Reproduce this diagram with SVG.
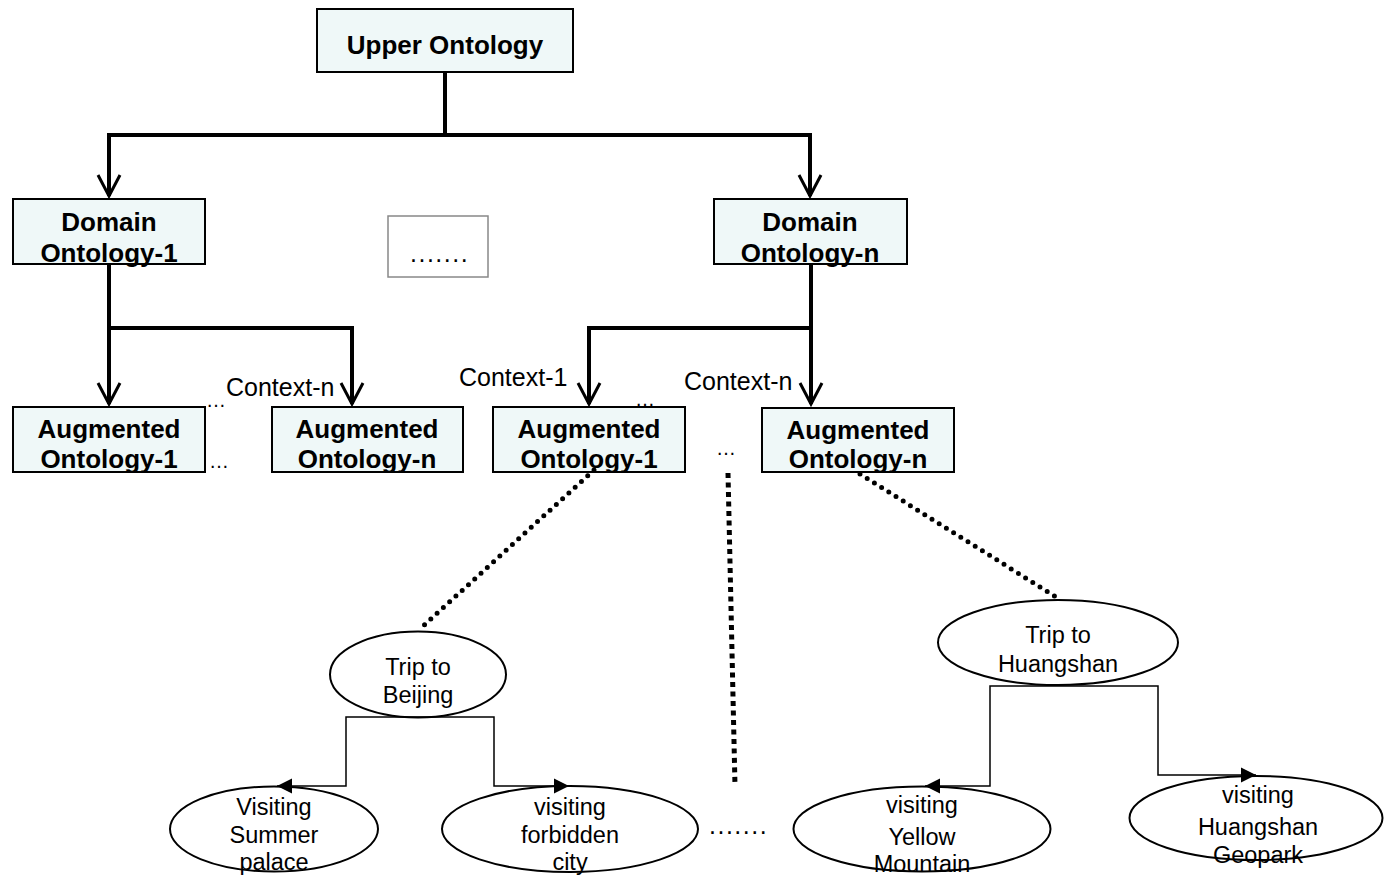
<svg xmlns="http://www.w3.org/2000/svg" width="1384" height="877" viewBox="0 0 1384 877">
<style>
.box{fill:#EFF8F8;stroke:#000;stroke-width:2}
.ell{fill:#fff;stroke:#000;stroke-width:2}
.b{font-family:"Liberation Sans",Arial,sans-serif;font-weight:bold;font-size:26px;text-anchor:middle;fill:#000}
.r{font-family:"Liberation Sans",Arial,sans-serif;font-size:23.5px;text-anchor:middle;fill:#000}
.c{font-family:"Liberation Sans",Arial,sans-serif;font-size:25px;fill:#000}
.e{font-family:"Liberation Sans",Arial,sans-serif;font-size:20px;fill:#000}
.thick{fill:none;stroke:#000;stroke-width:4;marker-end:url(#vopen)}
.thin{fill:none;stroke:#000;stroke-width:1.5;marker-end:url(#tri)}
.dot{fill:none;stroke:#000;stroke-width:5;stroke-linecap:round;stroke-dasharray:0 8.5}
.sq{fill:none;stroke:#000;stroke-width:5;stroke-dasharray:5 4.5}
</style>
<defs>
<marker id="vopen" markerUnits="userSpaceOnUse" orient="auto" overflow="visible" refX="0" refY="0" markerWidth="30" markerHeight="30">
<path d="M-21,-11 L0,0 L-21,11" fill="none" stroke="#000" stroke-width="3"/>
</marker>
<marker id="tri" markerUnits="userSpaceOnUse" orient="auto" overflow="visible" refX="0" refY="0" markerWidth="20" markerHeight="20">
<path d="M0,0 L-15,-7.5 L-15,7.5 z" fill="#000"/>
</marker>
</defs>

<g id="upper">
<rect class="box" x="317" y="9" width="256" height="63"/>
<text class="b" x="445" y="54">Upper Ontology</text>
</g>
<g id="domain1">
<rect class="box" x="13" y="199" width="192" height="65"/>
<text class="b" x="109" y="231">Domain</text>
<text class="b" x="109" y="262">Ontology-1</text>
</g>
<g id="dots">
<rect x="388" y="216" width="100" height="61" fill="#fff" stroke="#888" stroke-width="1.5"/>
<text class="c" x="410" y="262" font-size="24" letter-spacing="1.5">.......</text>
</g>
<g id="domainn">
<rect class="box" x="714" y="199" width="193" height="65"/>
<text class="b" x="810" y="231">Domain</text>
<text class="b" x="810" y="262">Ontology-n</text>
</g>
<g id="aug1a">
<rect class="box" x="13" y="407" width="192" height="65"/>
<text class="b" x="109" y="438">Augmented</text>
<text class="b" x="109" y="468">Ontology-1</text>
</g>
<g id="augna">
<rect class="box" x="272" y="407" width="191" height="65"/>
<text class="b" x="367" y="438">Augmented</text>
<text class="b" x="367" y="468">Ontology-n</text>
</g>
<g id="aug1b">
<rect class="box" x="493" y="407" width="192" height="65"/>
<text class="b" x="589" y="438">Augmented</text>
<text class="b" x="589" y="468">Ontology-1</text>
</g>
<g id="augnb">
<rect class="box" x="762" y="408" width="192" height="64"/>
<text class="b" x="858" y="439">Augmented</text>
<text class="b" x="858" y="468">Ontology-n</text>
</g>

<g id="beijing">
<ellipse class="ell" cx="418" cy="674.5" rx="88" ry="43"/>
<text class="r" x="418" y="675">Trip to</text>
<text class="r" x="418" y="703">Beijing</text>
</g>
<g id="summer">
<ellipse class="ell" cx="274" cy="829" rx="104" ry="42.5"/>
<text class="r" x="274" y="815">Visiting</text>
<text class="r" x="274" y="843">Summer</text>
<text class="r" x="274" y="870">palace</text>
</g>
<g id="forbidden">
<ellipse class="ell" cx="570" cy="829" rx="128" ry="43"/>
<text class="r" x="570" y="815">visiting</text>
<text class="r" x="570" y="843">forbidden</text>
<text class="r" x="570" y="870">city</text>
</g>
<g id="huangshan">
<ellipse class="ell" cx="1058" cy="642.5" rx="120" ry="42.5"/>
<text class="r" x="1058" y="643">Trip to</text>
<text class="r" x="1058" y="672">Huangshan</text>
</g>
<g id="yellow">
<ellipse class="ell" cx="922" cy="829" rx="128.5" ry="42.5"/>
<text class="r" x="922" y="813" font-size="26">visiting</text>
<text class="r" x="922" y="845" font-size="26">Yellow</text>
<text class="r" x="922" y="872" font-size="22">Mountain</text>
</g>
<g id="geopark">
<ellipse class="ell" cx="1256" cy="818" rx="126.5" ry="42"/>
<text class="r" x="1258" y="803" font-size="26">visiting</text>
<text class="r" x="1258" y="835" font-size="26">Huangshan</text>
<text class="r" x="1258" y="863" font-size="22">Geopark</text>
</g>

<g id="connectors">
<path class="thick" d="M445,72 V135 H109 V196"/>
<path class="thick" d="M445,135 H810 V196"/>
<path class="thick" d="M109,264 V404"/>
<path class="thick" d="M109,328 H352 V404"/>
<path class="thick" d="M811,264 V404"/>
<path class="thick" d="M811,328 H589 V404"/>
<path class="dot" d="M594,470 L421,628"/>
<path class="dot" d="M860,474 L1056,597"/>
<path class="sq" d="M728,473 L735,786"/>
<path class="thin" d="M418,717 H346 V786 H277"/>
<path class="thin" d="M418,717 H494 V786 H569"/>
<path class="thin" d="M1058,686 H990 V786 H925"/>
<path class="thin" d="M1058,686 H1158 V775 H1256"/>
</g>

<g id="labels">
<text class="c" x="226" y="396">Context-n</text>
<text class="c" x="459" y="386">Context-1</text>
<text class="c" x="684" y="390">Context-n</text>
<text class="e" x="206" y="407">…</text>
<text class="e" x="209" y="468">…</text>
<text class="e" x="635" y="406">…</text>
<text class="e" x="716" y="455">…</text>
<text class="c" x="709" y="834" font-size="24" letter-spacing="1.5">.......</text>
</g>
</svg>
